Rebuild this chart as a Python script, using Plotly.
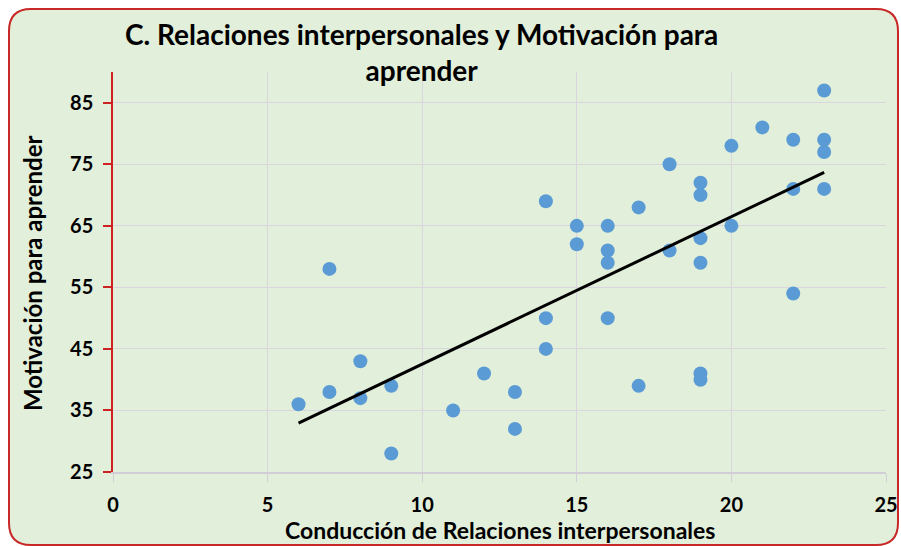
import numpy as np
import plotly.graph_objects as go

relaciones = [6, 7, 7, 8, 8, 9, 9, 11, 12, 13, 13, 14, 14, 14, 15, 15, 16, 16, 16, 16,
              17, 17, 18, 18, 19, 19, 19, 19, 19, 19, 20, 20, 21, 22, 22, 22, 23, 23, 23, 23]
motivacion = [36, 58, 38, 43, 37, 39, 28, 35, 41, 38, 32, 69, 50, 45, 65, 62, 65, 61, 59, 50,
              68, 39, 75, 61, 72, 70, 63, 59, 41, 40, 78, 65, 81, 79, 71, 54, 87, 79, 77, 71]
x_ticks = [0, 5, 10, 15, 20, 25]
y_ticks = [25, 35, 45, 55, 65, 75, 85]

title_text = "C. Relaciones interpersonales y Motivación para<br>aprender"
x_title = "Conducción de Relaciones interpersonales"
y_title = "Motivación para aprender"

W, H = 901, 546
# plot area in window pixels: left 113, right 886, top 72, bottom 472
L, R, T, B = 113, W - 886, 72, H - 472
PW, PH = W - L - R, H - T - B

def fx(px):  # window px -> paper
    return (px - L) / PW

def fy(py):
    return (H - B - py) / PH

# trendline (least squares)
slope, intercept = np.polyfit(relaciones, motivacion, 1)
tx = [min(relaciones), max(relaciones)]
ty = [slope * v + intercept for v in tx]

fig = go.Figure()
fig.add_trace(go.Scatter(x=relaciones, y=motivacion, mode="markers",
                         marker=dict(color="#5B9BD5", size=14, line=dict(width=0)),
                         showlegend=False))
fig.add_trace(go.Scatter(x=tx, y=ty, mode="lines",
                         line=dict(color="black", width=3), showlegend=False))

# rounded border
x0, x1, y0, y1, r = 9, 898, 9, 545, 22
def P(px, py):
    return f"{fx(px):.5f},{fy(py):.5f}"
path = (f"M {P(x0 + r, y0)} L {P(x1 - r, y0)} Q {P(x1, y0)} {P(x1, y0 + r)} "
        f"L {P(x1, y1 - r)} Q {P(x1, y1)} {P(x1 - r, y1)} "
        f"L {P(x0 + r, y1)} Q {P(x0, y1)} {P(x0, y1 - r)} "
        f"L {P(x0, y0 + r)} Q {P(x0, y0)} {P(x0 + r, y0)} Z")

fig.add_shape(type="path", path=path, xref="paper", yref="paper",
              fillcolor="#E2EFDA", line=dict(color="#C82828", width=2), layer="below")

font_fam = "Lato"
fig.update_layout(
    width=W, height=H,
    margin=dict(l=L, r=R, t=T, b=B, autoexpand=False),
    paper_bgcolor="white",
    plot_bgcolor="#E2EFDA",
    font=dict(family=font_fam, color="black"),
    annotations=[
        dict(text="<b>" + title_text + "</b>", x=fx(421), y=fy(52), xref="paper", yref="paper",
             xanchor="center", yanchor="middle", showarrow=False,
             font=dict(size=28, family=font_fam, color="black")),
        dict(text="<b>" + x_title + "</b>", x=fx(500), y=fy(530), xref="paper", yref="paper",
             xanchor="center", yanchor="middle", showarrow=False,
             font=dict(size=23, family=font_fam, color="black")),
        dict(text="<b>" + y_title + "</b>", x=fx(32), y=fy(274), xref="paper", yref="paper",
             xanchor="center", yanchor="middle", showarrow=False, textangle=-90,
             font=dict(size=24, family=font_fam, color="black")),
    ],
)

fig.update_xaxes(range=[0, 25], tickvals=x_ticks, ticktext=[str(v) for v in x_ticks],
                 showgrid=True, gridcolor="#D9D6DF", gridwidth=1, zeroline=False,
                 showline=True, linecolor="#D0CDD6", linewidth=1.5,
                 ticks="outside", ticklen=8, tickcolor="#D0CDD6", tickwidth=1,
                 tickfont=dict(size=20, family=font_fam, color="black", weight="bold"),
                 ticklabelstandoff=6)
fig.update_yaxes(range=[25, 90], tickvals=y_ticks, ticktext=[str(v) for v in y_ticks],
                 showgrid=True, gridcolor="#D9D6DF", gridwidth=1, zeroline=False,
                 showline=True, linecolor="#CC2222", linewidth=1.5,
                 ticks="outside", ticklen=8, tickcolor="#CC2222", tickwidth=1.5,
                 tickfont=dict(size=20, family=font_fam, color="black", weight="bold"),
                 ticklabelstandoff=6)

fig.write_html("out.html",
               config={"displayModeBar": False},
               post_script="document.body.style.margin='0';"
                           "document.body.style.overflow='hidden';"
                           "document.documentElement.style.overflow='hidden';")
